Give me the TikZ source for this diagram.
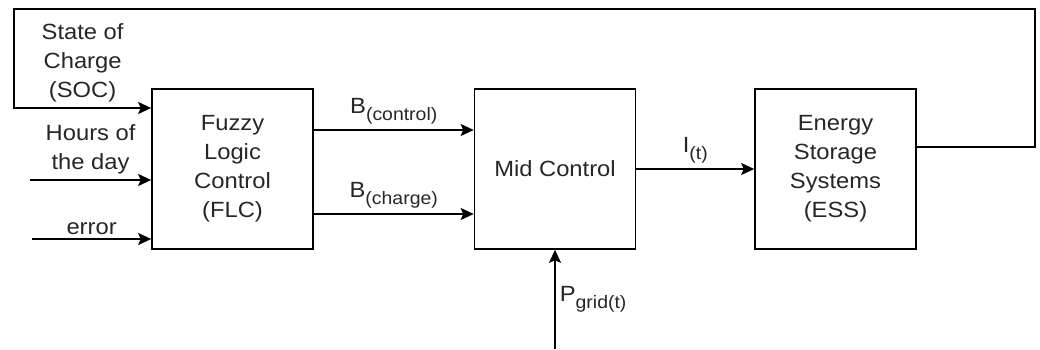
\documentclass[tikz,border=0pt]{standalone}
\usepackage{fontspec}
\setmainfont{Liberation Sans}[FakeStretch=1.08]
\usetikzlibrary{arrows.meta}

\newcommand{\sbs}[1]{\raisebox{-0.33em}{\fontsize{18}{18}\selectfont #1}}

\tikzset{
  block/.style={draw, line width=1.6pt, minimum width=161pt, minimum height=160pt,
    align=center, text=black!85},
  sig/.style={line width=1.6pt, -{Stealth[length=13pt,width=12pt,inset=2.5pt]}},
  lbl/.style={text=black!85, align=center, inner sep=3pt}
}

\begin{document}
\begin{tikzpicture}[x=1pt,y=-1pt,font=\fontsize{22}{29}\selectfont]
  \useasboundingbox (0,0) rectangle (1040,349);

  \node[block] (flc) at (232.5,169) {Fuzzy\\Logic\\Control\\(FLC)};
  \node[block] (mid) at (555,169) {Mid Control};
  \node[block] (ess) at (835.5,169) {Energy\\Storage\\Systems\\(ESS)};

  % feedback loop and outer inputs
  \coordinate (fbR) at (1035,9);
  \coordinate (fbL) at (14,9);
  \coordinate (hrs) at (30,180);
  \coordinate (err) at (32,239);
  \coordinate (pg) at (555,349);

  \draw[sig] ([yshift=22pt]ess.east) -| (fbR) -- (fbL) |- ([yshift=61pt]flc.west)
    node[lbl,pos=0.75,above=2pt] {State of\\Charge\\(SOC)};
  \draw[sig] (hrs) -- (hrs -| flc.west) node[lbl,midway,above=2pt] {Hours of\\the day};
  \draw[sig] (err) -- (err -| flc.west) node[lbl,midway,above=0pt] {error};

  \draw[sig] ([yshift=39pt]flc.east) -- ([yshift=39pt]mid.west)
    node[lbl,midway,above=2pt] {B\sbs{(control)}};
  \draw[sig] ([yshift=-45pt]flc.east) -- ([yshift=-45pt]mid.west)
    node[lbl,midway,above=2pt] {B\sbs{(charge)}};
  \draw[sig] (mid.east) -- (ess.west) node[lbl,midway,above=2pt] {I\sbs{(t)}};
  \draw[sig] (pg) -- (mid.south) node[lbl,midway,right=1pt] {P\sbs{grid(t)}};
\end{tikzpicture}
\end{document}
